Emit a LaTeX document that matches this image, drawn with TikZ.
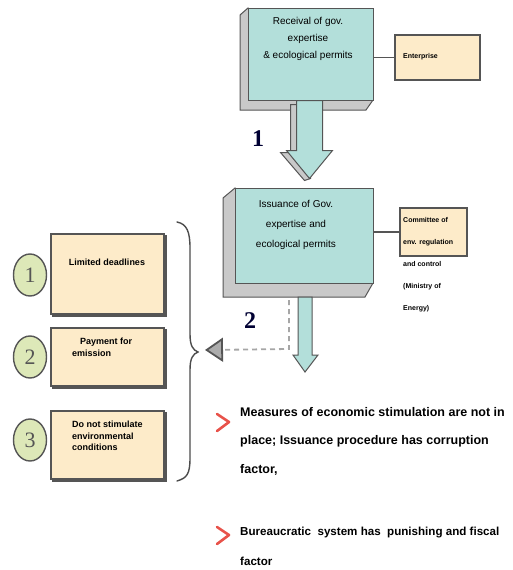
\documentclass[tikz,border=0pt]{standalone}
\usepackage{fontspec}
\setmainfont{Liberation Sans}
\newfontfamily\numfont{Liberation Serif}
\usetikzlibrary{arrows.meta,shapes.geometric,patterns}
\definecolor{tealface}{HTML}{B3DFDA}
\definecolor{peach}{HTML}{FDEBC9}
\definecolor{sidegray}{HTML}{C9C9C9}
\definecolor{edge}{HTML}{555555}
\definecolor{limefill}{HTML}{DDE8B8}
\definecolor{chev}{HTML}{E8524A}
\tikzset{
  tealbox/.style={draw=edge, line width=1pt, fill=tealface, inner sep=0pt},
  side/.style={draw=edge, line width=1pt, fill=sidegray},
  peachbox/.style={draw=edge, line width=1.6pt, fill=peach, inner sep=0pt},
  numcirc/.style={ellipse, draw=edge, line width=1.4pt, fill=limefill, minimum width=33pt, minimum height=42pt, inner sep=0pt, font=\numfont\fontsize{22}{22}\selectfont, text=edge},
  boxtext/.style={font=\fontsize{10}{17}\selectfont, align=center, inner sep=0pt, text=black},
  smalltext/.style={font=\bfseries\fontsize{7}{22}\selectfont, align=left, inner sep=0pt},
  lefttext/.style={font=\bfseries\fontsize{9}{11.5}\selectfont, inner sep=0pt},
  bullettext/.style={font=\bfseries\fontsize{12.5}{28.5}\selectfont, align=left, inner sep=0pt},
  steplabel/.style={font=\numfont\bfseries\fontsize{24}{24}\selectfont, text=black!80!blue, inner sep=0pt},
  chevron/.style={chev, line width=2.6pt, line cap=round, line join=round},
  conn/.style={edge, line width=1.4pt}
}
\begin{document}
\begin{tikzpicture}[x=1pt,y=-1pt]
\useasboundingbox (0,0) rectangle (513,570);
% ---------- Box A ----------
\filldraw[side] (248,8) -- (240,15) -- (240,110) -- (366,110) -- (373,100) -- cycle;
\node[tealbox, minimum width=125pt, minimum height=92pt] (A) at (310.5,54) {};
\node[boxtext] (Atext) at (308,39) {Receival of gov.\\expertise\\\& ecological permits};
% Enterprise
\node[peachbox, minimum width=85pt, minimum height=45pt] (E) at (437.5,57.5) {};
\node[smalltext, anchor=west] (Etext) at (403,57) {Enterprise};
\draw[conn] (A.east |- E.west) -- (E.west);
% ---------- Block arrow 1 ----------
\begin{scope}[shift={(A.south)}]
\filldraw[side] (-20,4) -- (-20,52) -- (-30,52) -- (-6,80) -- (0,78) -- (0,4) -- cycle;
\filldraw[tealbox] (-14,0) -- (12,0) -- (12,50) -- (22,50) -- (-1,78) -- (-24,50) -- (-14,50) -- cycle;
\end{scope}
\node[steplabel] (one) at (258,139) {1};
% ---------- Box B ----------
\filldraw[side] (235,188) -- (223,198) -- (223,297) -- (365,297) -- (373,283) -- cycle;
\node[tealbox, minimum width=138pt, minimum height=95pt] (B) at (304,235.5) {};
\node[boxtext, font=\fontsize{10}{20}\selectfont] (Btext) at (296,225) {Issuance of Gov.\\expertise and\\ecological permits};
% Committee
\node[peachbox, minimum width=67pt, minimum height=48pt] (C) at (433.5,232) {};
\node[smalltext, anchor=north west] (Ctext) at (403,217) {Committee of\\env. regulation\\and control\\(Ministry of\\Energy)};
\draw[conn] (B.east |- C.west) -- (C.west);
% ---------- Arrow 2 ----------
\filldraw[draw=edge, line width=1pt, fill=tealface] (298,297) -- (312,297) -- (312,355) -- (318,355) -- (305,372) -- (293,355) -- (298,355) -- cycle;
\node[steplabel] (two) at (250,321) {2};
% ---------- Brace ----------
\draw[edge!90!black, line width=1.4pt, line cap=round]
  (177,222) .. controls (187,224) and (190,232) .. (190,248)
  -- (190,334) .. controls (190,346) and (193,350) .. (198,352)
  .. controls (193,354) and (190,358) .. (190,370)
  -- (190,458) .. controls (190,474) and (187,478) .. (177,481);
\coordinate (bracetip) at (205,350);
\coordinate (dstart) at (289,300);
\draw[gray!70, line width=1.8pt, dash pattern=on 5pt off 4pt, -{Triangle[length=18pt,width=24pt,fill=gray!65,color=edge]}]
  (dstart) -- (289,349) -- (bracetip);
% ---------- Left boxes ----------
\fill[edge] (52,235) rectangle (167,317);
\node[peachbox, minimum width=113pt, minimum height=80pt] (L1) at (107.5,274) {};
\node[lefttext] (L1t) at (107,262) {Limited deadlines};
\fill[edge] (52,329) rectangle (167,389);
\node[peachbox, minimum width=113pt, minimum height=58pt] (L2) at (107.5,357) {};
\node[lefttext, align=left, anchor=north west] (L2t) at (72,338) {\hspace*{8pt}Payment for\\emission};
\fill[edge] (52,412) rectangle (167,482);
\node[peachbox, minimum width=113pt, minimum height=68pt] (L3) at (107.5,445) {};
\node[lefttext, align=left, anchor=north west] (L3t) at (72,421) {Do not stimulate\\environmental\\conditions};
% circles
\node[numcirc] (c1) at (30,275) {1};
\node[numcirc] (c2) at (30,357) {2};
\node[numcirc] (c3) at (30,440) {3};
% ---------- Bullets ----------
\draw[chevron] (217,414) -- (229,422) -- (217,431);
\node[bullettext, anchor=north west] (t1) at (240,407) {Measures of economic stimulation are not in\\place; Issuance procedure has corruption\\factor,};
\draw[chevron] (217,527) -- (229,535) -- (217,544);
\node[bullettext, font=\bfseries\fontsize{11.6}{30}\selectfont, anchor=north west] (t2) at (240,527) {Bureaucratic\ \ system has\ \ punishing and fiscal\\factor};
\end{tikzpicture}
\end{document}
